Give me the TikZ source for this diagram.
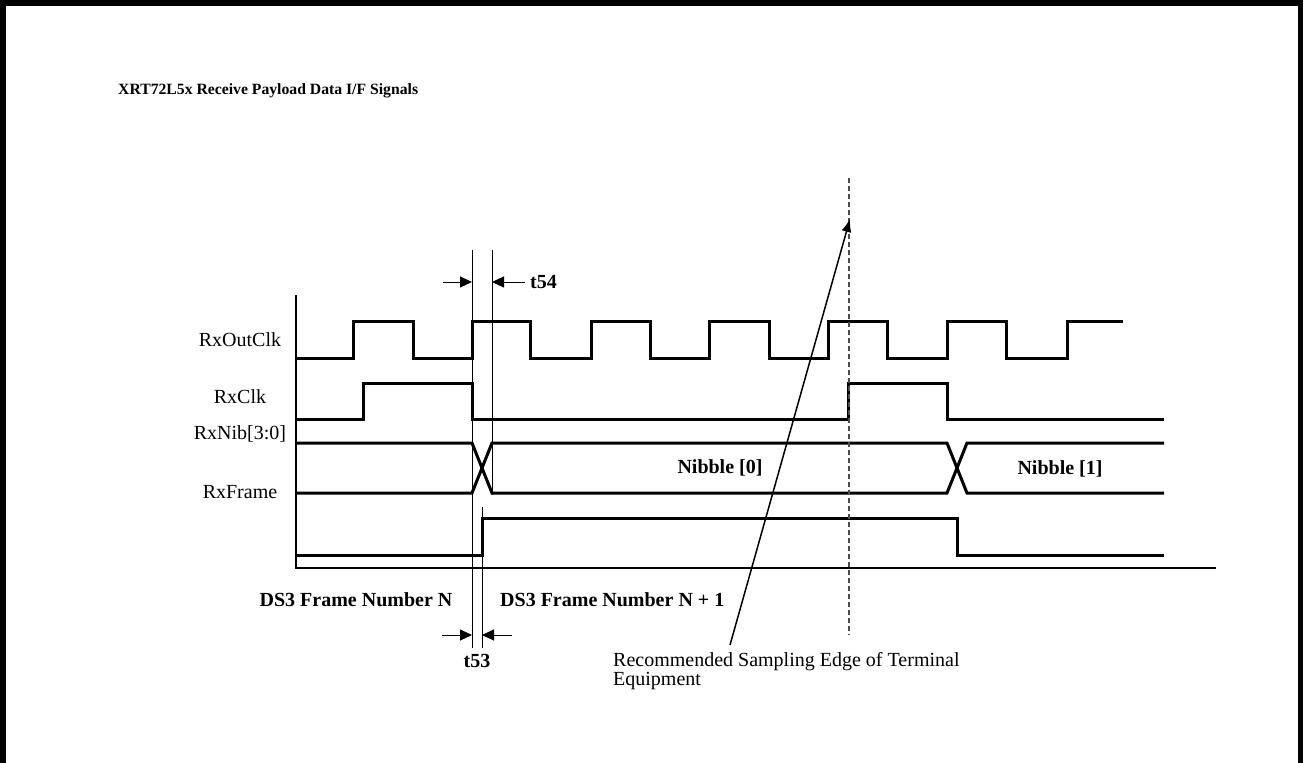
\documentclass[tikz,border=0pt]{standalone}
\usepackage{fontspec}
\setmainfont{Liberation Serif}
\usetikzlibrary{arrows.meta}
\begin{document}
\begin{tikzpicture}[x=1pt,y=-1pt,
  sig/.style={line width=3pt, line join=miter, line cap=butt},
  thin/.style={line width=1pt},
  axisline/.style={line width=1.8pt},
  lbl/.style={inner sep=0pt, font=\fontsize{20}{23}\selectfont},
  blbl/.style={inner sep=0pt, font=\fontsize{20}{23}\selectfont\bfseries},
  dimarrow/.style={line width=1pt, -{Triangle[length=12pt,width=11pt]}},
  pointer/.style={line width=1.5pt, -{Latex[length=13pt,width=10pt]}},
  dashline/.style={line width=1.2pt, draw=black!70, dash pattern=on 5pt off 3pt}]
\useasboundingbox (0,0) rectangle (1304,763);
% frame
\draw[line width=5.5pt] (2.75,763) -- (2.75,2.75) -- (1300.5,2.75) -- (1300.5,763);
% title
\node[anchor=west, inner sep=0pt, font=\fontsize{15.7}{18}\selectfont\bfseries] (title) at (118,90.5) {XRT72L5x Receive Payload Data I/F Signals};
% signal labels
\node[lbl] (lOut) at (240,340) {RxOutClk};
\node[lbl] (lClk) at (240,397) {RxClk};
\node[lbl] (lNib) at (240,434) {RxNib[3:0]};
\node[lbl] (lFrm) at (240,492) {RxFrame};
% axes
\coordinate (axTop) at (296,295);
\coordinate (axOrg) at (296,568);
\coordinate (axEnd) at (1216,568);
\draw[axisline] (axTop) -- (axOrg) -- (axEnd);
% RxOutClk
\draw[sig] (296,358) -- (353,358) -- (353,321) -- (413,321) -- (413,358) -- (472,358) -- (472,321) -- (530,321) -- (530,358) -- (591,358) -- (591,321) -- (650,321) -- (650,358) -- (709,358) -- (709,321) -- (769,321) -- (769,358) -- (828,358) -- (828,321) -- (887,321) -- (887,358) -- (947,358) -- (947,321) -- (1006,321) -- (1006,358) -- (1067,358) -- (1067,321) -- (1123,321);
% RxClk
\draw[sig] (296,419) -- (363,419) -- (363,383) -- (472,383) -- (472,419) -- (848,419) -- (848,383) -- (947,383) -- (947,419) -- (1164,419);
% RxNib
\draw[sig] (296,443) -- (472,443) -- (492,493) -- (947,493) -- (967,443) -- (1164,443);
\draw[sig] (296,493) -- (472,493) -- (492,443) -- (947,443) -- (967,493) -- (1164,493);
\node[blbl] (n0) at (720,468) {Nibble [0]};
\node[blbl] (n1) at (1060,469) {Nibble [1]};
% RxFrame
\draw[sig] (296,555) -- (482,555) -- (482,518) -- (957,518) -- (957,555) -- (1164,555);
% timing reference lines
\coordinate (vA1) at (472,250);
\coordinate (vA2) at (472,648);
\coordinate (vB1) at (492,250);
\coordinate (vB2) at (492,495);
\coordinate (vC1) at (482,507);
\coordinate (vC2) at (482,648);
\draw[thin] (vA1) -- (vA2);
\draw[thin] (vB1) -- (vB2);
\draw[thin] (vC1) -- (vC2);
% t54
\coordinate (t54Ls) at (443,282);
\coordinate (t54Le) at (472,282);
\coordinate (t54Rs) at (525,282);
\coordinate (t54Re) at (492,282);
\draw[dimarrow] (t54Ls) -- (t54Le);
\draw[dimarrow] (t54Rs) -- (t54Re);
\node[blbl, anchor=west] (t54) at (530,282) {t54};
% t53
\coordinate (t53Ls) at (442,635);
\coordinate (t53Le) at (472,635);
\coordinate (t53Rs) at (512,635);
\coordinate (t53Re) at (482,635);
\draw[dimarrow] (t53Ls) -- (t53Le);
\draw[dimarrow] (t53Rs) -- (t53Re);
\node[blbl] (t53) at (477,661) {t53};
% frame numbers
\node[blbl] (fN) at (356,600) {DS3 Frame Number N};
\node[blbl, anchor=west] (fN1) at (500,600) {DS3 Frame Number N + 1};
% sampling edge
\coordinate (dTop) at (849,178);
\coordinate (dBot) at (849,635);
\draw[dashline] (dTop) -- (dBot);
\node[inner sep=0pt, anchor=north west, align=left, font=\fontsize{20}{19}\selectfont] (rec) at (613,652) {Recommended Sampling Edge of Terminal\\Equipment};
\coordinate (pS) at (730,645);
\coordinate (pE) at (850,219);
\draw[pointer] (pS) -- (pE);
\end{tikzpicture}
\end{document}
